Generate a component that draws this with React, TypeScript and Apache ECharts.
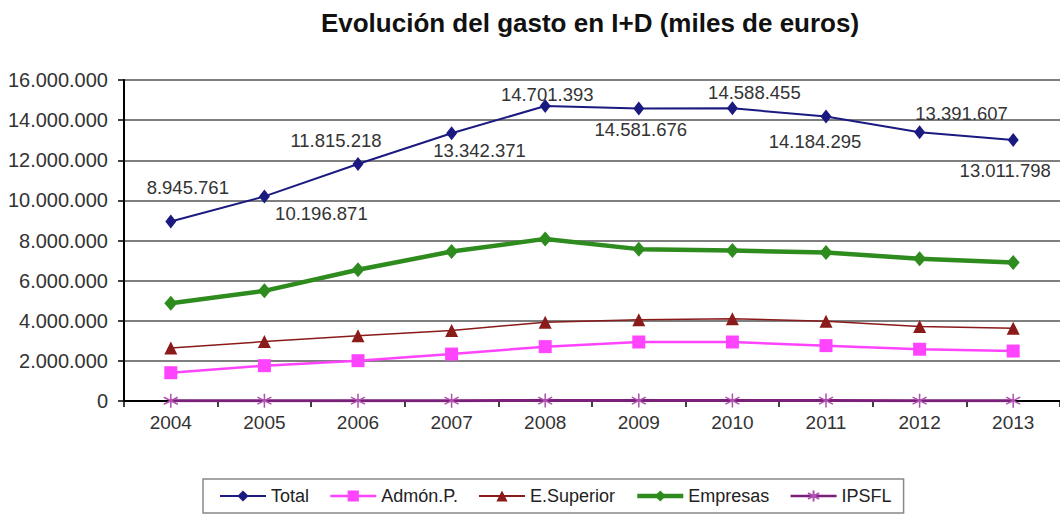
import React, { useEffect, useRef } from "react";
import * as echarts from "echarts";

const years = ["2004", "2005", "2006", "2007", "2008", "2009", "2010", "2011", "2012", "2013"];
const total = [8945761, 10196871, 11815218, 13342371, 14701393, 14581676, 14588455, 14184295, 13391607, 13011798];
const admonP = [1410000, 1760000, 2010000, 2340000, 2710000, 2940000, 2940000, 2760000, 2580000, 2490000];
const eSuperior = [2640000, 2960000, 3250000, 3520000, 3930000, 4050000, 4100000, 3970000, 3710000, 3630000];
const empresas = [4870000, 5490000, 6540000, 7450000, 8080000, 7570000, 7500000, 7400000, 7090000, 6900000];
const ipsfl = [12000, 15000, 17000, 18000, 20000, 21000, 22000, 21000, 17000, 16000];

const yMin = 0;
const yMax = 16000000;
const yInterval = 2000000;

// label placement (layout only)
const totalLabelOffsets: [number, number][] = [
  [17, -34], [57, 17], [-22, -23], [28, 17], [2, -12],
  [2, 21], [22, -16], [-11, 25], [42, -19], [-8, 31],
];

const FONT = "'Liberation Sans', Arial, Helvetica, sans-serif";

const fmt = (v: number) => String(Math.round(v)).replace(/\B(?=(\d{3})+(?!\d))/g, ".");

const starPath = "path://M5 0L5 10M0.7 2.5L9.3 7.5M9.3 2.5L0.7 7.5";

export default function App() {
  const ref = useRef<HTMLDivElement>(null);
  useEffect(() => {
    document.body.style.margin = "0";
    const chart = echarts.init(ref.current!, null, { renderer: "svg" });
    chart.setOption({
      animation: false,
      backgroundColor: "#ffffff",
      title: {
        text: "Evolución del gasto en I+D (miles de euros)",
        left: 585,
        top: 5,
        textAlign: "center",
        textStyle: { fontFamily: FONT, fontSize: 26, fontWeight: "bold", color: "#111" },
      },
      legend: {
        left: 203,
        top: 479,
        padding: [8, 12, 8, 16],
        itemWidth: 46,
        itemHeight: 14,
        itemGap: 20,
        borderColor: "#888",
        borderWidth: 1.5,
        textStyle: { fontFamily: FONT, fontSize: 18, color: "#222" },
        data: [
          { name: "Total", lineStyle: { width: 2 } },
          { name: "Admón.P.", lineStyle: { width: 2.5 } },
          { name: "E.Superior", lineStyle: { width: 2 } },
          { name: "Empresas", lineStyle: { width: 4.5 } },
          { name: "IPSFL", lineStyle: { width: 2.5 } },
        ],
      },
      grid: { left: 124, top: 80, width: 939, bottom: 113, containLabel: false },
      xAxis: {
        type: "category",
        data: years,
        boundaryGap: true,
        axisLine: { lineStyle: { color: "#000", width: 2 } },
        axisTick: { show: true, inside: false, length: 6, lineStyle: { color: "#000", width: 1.5 } },
        axisLabel: { fontFamily: FONT, fontSize: 19, color: "#333", margin: 12 },
        splitLine: { show: false },
      },
      yAxis: {
        type: "value",
        min: yMin,
        max: yMax,
        interval: yInterval,
        axisLine: { show: true, lineStyle: { color: "#000", width: 2 } },
        axisTick: { show: true, inside: false, length: 6, lineStyle: { color: "#000", width: 1.5 } },
        axisLabel: { fontFamily: FONT, fontSize: 20, color: "#333", margin: 16, formatter: (v: number) => fmt(v) },
        splitLine: { show: true, lineStyle: { color: "#555", width: 1.5 } },
      },
      series: [
        {
          name: "IPSFL",
          type: "line",
          data: ipsfl,
          symbol: starPath,
          symbolSize: 14,
          z: 2,
          lineStyle: { color: "#7a1f7a", width: 3 },
          itemStyle: { color: "#b050b0", borderColor: "#b050b0", borderWidth: 1.5 },
        },
        {
          name: "Admón.P.",
          type: "line",
          data: admonP,
          symbol: "rect",
          symbolSize: 13,
          z: 3,
          lineStyle: { color: "#ff44ff", width: 2.5 },
          itemStyle: { color: "#ff44ff", borderWidth: 0 },
        },
        {
          name: "E.Superior",
          type: "line",
          data: eSuperior,
          symbol: "triangle",
          symbolSize: 13,
          z: 3,
          lineStyle: { color: "#8b1a1a", width: 1.5 },
          itemStyle: { color: "#8b1a1a", borderWidth: 0 },
        },
        {
          name: "Empresas",
          type: "line",
          data: empresas,
          symbol: "diamond",
          symbolSize: [13, 15],
          z: 3,
          lineStyle: { color: "#2e8b1e", width: 4.5 },
          itemStyle: { color: "#2e8b1e", borderWidth: 0 },
        },
        {
          name: "Total",
          type: "line",
          data: total.map((v, i) => ({
            value: v,
            label: { offset: totalLabelOffsets[i] },
          })),
          symbol: "diamond",
          symbolSize: [11, 14],
          z: 4,
          lineStyle: { color: "#1a1a80", width: 2 },
          itemStyle: { color: "#1a1a80", borderWidth: 0 },
          label: {
            show: true,
            position: "inside",
            fontFamily: FONT,
            fontSize: 18.5,
            color: "#333",
            formatter: (p: any) => fmt(p.value),
          },
        },
      ],
    });
    return () => chart.dispose();
  }, []);
  return <div ref={ref} style={{ width: 1060, height: 514 }} />;
}
